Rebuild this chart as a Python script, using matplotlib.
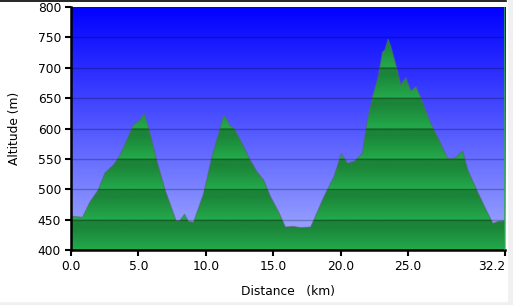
import numpy as np
import matplotlib
matplotlib.use('Agg')
import matplotlib.pyplot as plt
from matplotlib.patches import Rectangle

# elevation profile
dist_km = [0.0, 0.4, 0.87, 1.41, 2.03, 2.53, 3.15, 3.64, 4.14, 4.63, 5.08, 5.43,
           5.75, 6.37, 6.99, 7.81, 8.1, 8.43, 8.72, 9.1, 9.84, 10.46, 10.95,
           11.33, 11.5, 11.82, 12.07, 12.69, 13.3, 13.8, 14.3, 14.8, 15.4, 15.9,
           16.5, 17.03, 17.77, 18.0, 18.76, 19.5, 20.05, 20.5, 21.0, 21.6, 21.98,
           22.36, 22.78, 23.1, 23.27, 23.52, 23.72, 24.09, 24.46, 24.83, 25.2,
           25.58, 25.95, 26.69, 27.19, 27.93, 28.42, 29.05, 29.42, 30.04, 30.78,
           31.28, 31.65, 32.2]
alt_m = [456, 455, 454, 479, 499, 527, 540, 556, 581, 606, 613, 625,
         603, 548, 499, 448, 449, 459, 447, 446, 493, 554, 592,
         622, 618, 604, 602, 576, 548, 529, 515, 488, 463, 438,
         439, 437, 438, 449, 488, 521, 559, 543, 546, 559, 614,
         652, 685, 726, 729, 747, 735, 705, 672, 684, 662,
         669, 650, 608, 586, 551, 551, 563, 532, 501, 466,
         444, 447, 448]

x_ticks = [0.0, 5.0, 10.0, 15.0, 20.0, 25.0, 32.2]
x_labels = ['0.0', '5.0', '10.0', '15.0', '20.0', '25.0', '32.2']
y_ticks = [400, 450, 500, 550, 600, 650, 700, 750, 800]

fig = plt.figure(figsize=(5.13, 3.05), dpi=100)
fig.patches.append(Rectangle((0, 0), 1, 1, transform=fig.transFigure,
                             color='#f0f0f0', zorder=-10))
fig.patches.append(Rectangle((0, 0.012), 0.988, 0.988, transform=fig.transFigure,
                             color='white', zorder=-9))
fig.lines.append(plt.Line2D([0, 0.986], [0.997, 0.997], transform=fig.transFigure,
                            color='black', lw=1.2))

ax = fig.add_axes([0.138, 0.18, 0.847, 0.797])
xmin, xmax, ymin, ymax = 0, 32.2, 400, 800

# blue sky gradient
t = np.linspace(0, 1, 256).reshape(-1, 1)
top = np.array([0, 0, 255]) / 255
bot = np.array([165, 175, 255]) / 255
sky = top * (1 - t[..., None]) + bot * t[..., None]
ax.imshow(sky, extent=[xmin, xmax, ymin, ymax], aspect='auto', zorder=0)

# green fill, banded per 50 m
yy = np.linspace(ymax, ymin, 800)
frac = ((yy - ymin) % 50) / 50.0
light = np.array([36, 170, 76]) / 255
dark = np.array([27, 132, 56]) / 255
w = np.clip(frac * 1.3, 0, 1)[:, None]
grn = light * (1 - w) + dark * w
grn = grn[:, None, :]
poly = ax.fill_between(dist_km, alt_m, ymin, color='none', lw=0)
im = ax.imshow(grn, extent=[xmin, xmax, ymin, ymax], aspect='auto', zorder=1)
path = poly.get_paths()[0]
im.set_clip_path(path, transform=ax.transData)
ax.plot(dist_km, alt_m, color='#5a6670', lw=0.8, alpha=0.6, zorder=2)

for y in y_ticks[1:-1]:
    ax.axhline(y, color='black', lw=1, alpha=0.25, zorder=3)
ax.axvline(xmax, color='#2fa84f', lw=1.2, zorder=3)

ax.set_xlim(xmin, xmax)
ax.set_ylim(ymin, ymax)
ax.set_xticks(x_ticks)
ax.set_xticklabels(x_labels)
ax.get_xticklabels()[-1].set_horizontalalignment('right')
ax.set_yticks(y_ticks)
ax.tick_params(direction='out', length=4, width=1.5, labelsize=8.8, pad=3)
for s in ['top', 'right']:
    ax.spines[s].set_visible(False)
for s in ['left', 'bottom']:
    ax.spines[s].set_linewidth(1.8)
ax.set_xlabel('Distance   (km)', fontsize=8.8, labelpad=9)
ax.set_ylabel('Altitude (m)', fontsize=8.8, labelpad=12)

fig.savefig('out.png', dpi=100)
